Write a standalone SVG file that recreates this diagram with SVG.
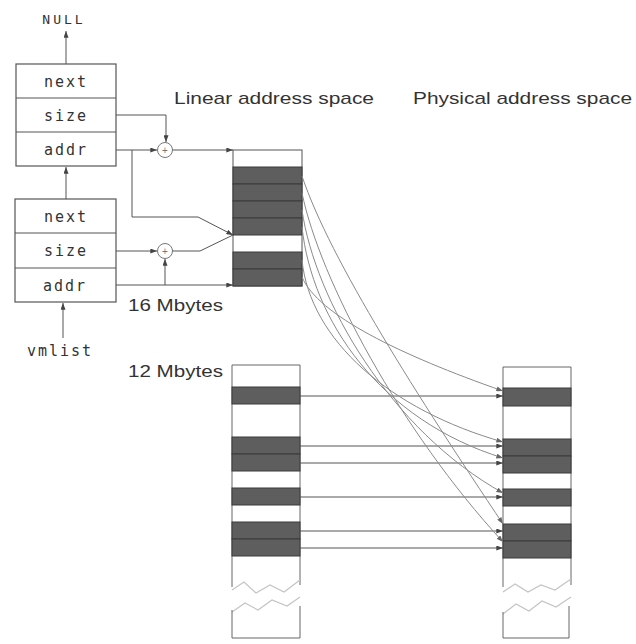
<svg xmlns="http://www.w3.org/2000/svg" width="636" height="644" viewBox="0 0 636 644">
<defs>
<style>
.box{fill:#fff;stroke:#555;stroke-width:1.2}
.fld{font-family:"DejaVu Sans Mono",monospace;font-size:15px;fill:#333;letter-spacing:2px;text-anchor:middle}
.lbl{font-family:"Liberation Sans",Arial,sans-serif;font-size:17px;fill:#333}
.dark{fill:#5e5e5e;stroke:#3a3a3a;stroke-width:1}
.col{fill:#fff;stroke:#555;stroke-width:1}
.edge{fill:none;stroke:#666;stroke-width:1}
.ln{fill:none;stroke:#555;stroke-width:1}
.cv{fill:none;stroke:#8a8a8a;stroke-width:1}
.zz{fill:none;stroke:#c4c4c4;stroke-width:1.2}
.add{fill:#fff;stroke:#777;stroke-width:1}
.plus{font-family:"Liberation Sans",Arial,sans-serif;font-size:10px;fill:#777;text-anchor:middle}
</style>
<marker id="ah" viewBox="0 0 8 6" refX="8" refY="3" markerWidth="7" markerHeight="5" orient="auto" markerUnits="userSpaceOnUse">
<path d="M0,0 L8,3 L0,6 z" fill="#444"/>
</marker>
<marker id="ahl" viewBox="0 0 8 6" refX="8" refY="3" markerWidth="7" markerHeight="5" orient="auto" markerUnits="userSpaceOnUse">
<path d="M0,0 L8,3 L0,6 z" fill="#666"/>
</marker>
</defs>
<rect width="636" height="644" fill="#fff"/>

<text class="fld" x="64" y="24" style="font-size:13px;letter-spacing:3px">NULL</text>

<g id="struct1">
<rect class="box" x="16" y="64" width="100" height="102"/>
<line class="box" x1="16" y1="98" x2="116" y2="98"/>
<line class="box" x1="16" y1="132" x2="116" y2="132"/>
<text class="fld" x="66" y="87">next</text>
<text class="fld" x="66" y="121">size</text>
<text class="fld" x="66" y="155">addr</text>
</g>

<g id="struct2">
<rect class="box" x="15" y="199" width="101" height="103"/>
<line class="box" x1="15" y1="233" x2="116" y2="233"/>
<line class="box" x1="15" y1="268" x2="116" y2="268"/>
<text class="fld" x="66" y="222">next</text>
<text class="fld" x="66" y="256">size</text>
<text class="fld" x="65" y="291">addr</text>
</g>

<text class="fld" x="60" y="356">vmlist</text>

<g id="adder1">
<circle class="add" cx="165" cy="150" r="7.5"/>
<text class="plus" x="165" y="153.5">+</text>
</g>
<g id="adder2">
<circle class="add" cx="165" cy="251" r="7.5"/>
<text class="plus" x="165" y="254.5">+</text>
</g>

<text class="lbl" x="174" y="104" textLength="200" lengthAdjust="spacingAndGlyphs">Linear address space</text>
<text class="lbl" x="413" y="104" textLength="219" lengthAdjust="spacingAndGlyphs">Physical address space</text>
<text class="lbl" x="128" y="311" textLength="95" lengthAdjust="spacingAndGlyphs">16 Mbytes</text>
<text class="lbl" x="128" y="377" textLength="95" lengthAdjust="spacingAndGlyphs">12 Mbytes</text>

<g id="linear-16M">
<rect class="col" x="233" y="150" width="69" height="136"/>
<rect class="dark" x="233" y="167" width="69" height="17"/>
<rect class="dark" x="233" y="184" width="69" height="17"/>
<rect class="dark" x="233" y="201" width="69" height="17"/>
<rect class="dark" x="233" y="218" width="69" height="17"/>
<rect class="dark" x="233" y="252" width="69" height="17"/>
<rect class="dark" x="233" y="269" width="69" height="17"/>
</g>

<g id="linear-12M">
<path class="edge" d="M232,587 V365 H300 V585"/>
<rect class="dark" x="232" y="387" width="68" height="17"/>
<rect class="dark" x="232" y="437" width="68" height="17"/>
<rect class="dark" x="232" y="454" width="68" height="17"/>
<rect class="dark" x="232" y="488" width="68" height="17"/>
<rect class="dark" x="232" y="522" width="68" height="17"/>
<rect class="dark" x="232" y="539" width="68" height="17"/>
<polyline class="zz" points="232,590 244,582 256,593 270,585 284,592 300,580"/>
<polyline class="zz" points="232,612 245,603 258,610 272,600 287,606 300,597"/>
<path class="edge" d="M232,610 V638 H300 V606"/>
</g>

<g id="physical">
<path class="edge" d="M503,587 V367 H571 V585"/>
<rect class="dark" x="503" y="388" width="68" height="18"/>
<rect class="dark" x="503" y="439" width="68" height="17"/>
<rect class="dark" x="503" y="456" width="68" height="17"/>
<rect class="dark" x="503" y="489" width="68" height="17"/>
<rect class="dark" x="503" y="524" width="68" height="17"/>
<rect class="dark" x="503" y="541" width="68" height="17"/>
<polyline class="zz" points="503,592 515,584 528,592 541,585 555,590 571,579"/>
<polyline class="zz" points="503,614 516,604 529,611 542,601 556,607 571,597"/>
<path class="edge" d="M503,612 V638 H569 V606"/>
</g>

<g id="connectors">
<line class="ln" x1="66" y1="64" x2="66" y2="31" marker-end="url(#ah)"/>
<line class="ln" x1="66" y1="199" x2="66" y2="167" marker-end="url(#ah)"/>
<line class="ln" x1="63" y1="338" x2="63" y2="303" marker-end="url(#ah)"/>
<path class="ln" d="M116,115 H166 V142" marker-end="url(#ah)"/>
<path class="ln" d="M116,150 H157" marker-end="url(#ah)"/>
<path class="ln" d="M172.5,150 H233" marker-end="url(#ah)"/>
<path class="ln" d="M132,150 V217 H198 L233,235" marker-end="url(#ah)"/>
<path class="ln" d="M172.5,251 H200 L233,235"/>
<path class="ln" d="M116,251 H157" marker-end="url(#ah)"/>
<path class="ln" d="M116,285 H233" marker-end="url(#ah)"/>
<path class="ln" d="M165,285 V259" marker-end="url(#ah)"/>

<path class="ln" d="M300,396 H503" marker-end="url(#ah)"/>
<path class="ln" d="M300,446 H503" marker-end="url(#ah)"/>
<path class="ln" d="M300,463 H503" marker-end="url(#ah)"/>
<path class="ln" d="M300,497 H503" marker-end="url(#ah)"/>
<path class="ln" d="M300,531 H503" marker-end="url(#ah)"/>
<path class="ln" d="M300,548 H503" marker-end="url(#ah)"/>

<path class="cv" d="M302,176 C330,260 420,400 503,524" marker-end="url(#ahl)"/>
<path class="cv" d="M302,193 C320,280 400,430 503,542" marker-end="url(#ahl)"/>
<path class="cv" d="M302,210 C315,300 390,430 503,493" marker-end="url(#ahl)"/>
<path class="cv" d="M302,227 C312,320 380,420 503,458" marker-end="url(#ahl)"/>
<path class="cv" d="M302,260 C310,340 390,410 503,442" marker-end="url(#ahl)"/>
<path class="cv" d="M302,277 C318,315 400,355 503,391" marker-end="url(#ahl)"/>
</g>
</svg>
